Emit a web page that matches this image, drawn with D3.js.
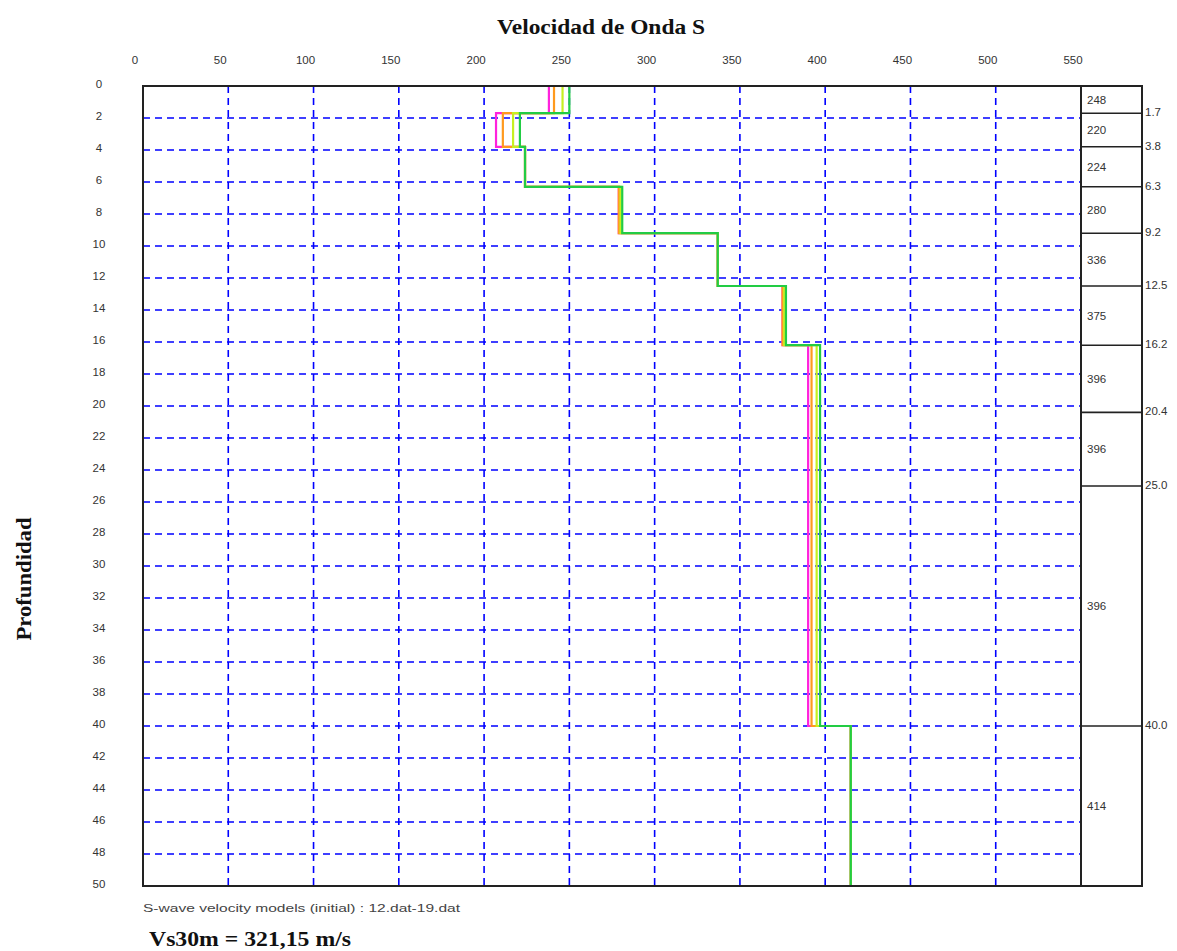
<!DOCTYPE html>
<html>
<head>
<meta charset="utf-8">
<script src="https://cdn.jsdelivr.net/npm/d3@7"></script>
<style>
  html, body { margin: 0; padding: 0; background: #fff; }
  svg { display: block; }
</style>
</head>
<body>
<svg id="chart" width="1177" height="951"></svg>
<script>
// ---- Data ----
const xTicks = [0, 50, 100, 150, 200, 250, 300, 350, 400, 450, 500, 550];
const yTicks = [0, 2, 4, 6, 8, 10, 12, 14, 16, 18, 20, 22, 24, 26, 28, 30, 32, 34, 36, 38, 40, 42, 44, 46, 48, 50];
const layerTops = [0, 1.7, 3.8, 6.3, 9.2, 12.5, 16.2, 20.4, 25.0, 40.0];
const maxDepth = 50;
const layerLabels = [248, 220, 224, 280, 336, 375, 396, 396, 396, 414];
const boundaryLabels = ["1.7", "3.8", "6.3", "9.2", "12.5", "16.2", "20.4", "25.0", "40.0"];
const seriesNames = ["12.dat", "13.dat", "18.dat", "19.dat"];
const magentaVs = [238, 207, 224, 279, 337, 375, 390, 390, 390, 415];
const orangeVs  = [241, 211, 224, 279, 337, 375, 392, 392, 392, 415];
const yellowVs  = [246, 217, 224, 280, 337, 376, 395, 395, 395, 415];
const greenVs   = [250, 221, 224, 281, 337, 377, 397, 397, 397, 415];
const seriesColors = ["#ff22dd", "#ff9a1e", "#c6f020", "#22cc44"];

// ---- Layout ----
const svg = d3.select("#chart");
const x = d3.scaleLinear().domain([0, 550]).range([143, 1081]);
const y = d3.scaleLinear().domain([0, maxDepth]).range([86, 886]);
const colLeft = 1081, colRight = 1142;
const labelColor = "#333";

// Grid
const grid = svg.append("g");
grid.selectAll("line.v").data(xTicks.filter(d => d > 0 && d < 550)).enter().append("line")
  .attr("x1", d => x(d)).attr("x2", d => x(d)).attr("y1", y(0)).attr("y2", y(maxDepth))
  .attr("stroke", "#0000ff").attr("stroke-width", 1.6).attr("stroke-dasharray", "7,5");
grid.selectAll("line.h").data(yTicks.filter(d => d > 0 && d < maxDepth)).enter().append("line")
  .attr("x1", x(0)).attr("x2", x(550)).attr("y1", d => y(d)).attr("y2", d => y(d))
  .attr("stroke", "#0000ff").attr("stroke-width", 1.6).attr("stroke-dasharray", "7,5");

// Series step lines
const series = [magentaVs, orangeVs, yellowVs, greenVs];
const line = d3.line().x(d => x(d[0])).y(d => y(d[1]));
series.forEach((vals, i) => {
  const pts = [];
  vals.forEach((v, k) => {
    const top = layerTops[k];
    const bot = k + 1 < layerTops.length ? layerTops[k + 1] : maxDepth;
    pts.push([v, top]);
    pts.push([v, bot]);
  });
  svg.append("path").datum(pts).attr("d", line)
    .attr("fill", "none").attr("stroke", seriesColors[i]).attr("stroke-width", 2.2);
});

// Plot border
svg.append("rect").attr("x", x(0)).attr("y", y(0)).attr("width", x(550) - x(0)).attr("height", y(maxDepth) - y(0))
  .attr("fill", "none").attr("stroke", "#222").attr("stroke-width", 2);

// Right column
svg.append("rect").attr("x", colLeft).attr("y", y(0)).attr("width", colRight - colLeft).attr("height", y(maxDepth) - y(0))
  .attr("fill", "none").attr("stroke", "#222").attr("stroke-width", 2);
svg.selectAll("line.b").data(layerTops.slice(1)).enter().append("line")
  .attr("x1", colLeft).attr("x2", colRight).attr("y1", d => y(d)).attr("y2", d => y(d))
  .attr("stroke", "#222").attr("stroke-width", 1.6);
svg.selectAll("text.vl").data(layerLabels).enter().append("text")
  .attr("x", colLeft + 6)
  .attr("y", (d, k) => (y(layerTops[k]) + y(k + 1 < layerTops.length ? layerTops[k + 1] : maxDepth)) / 2)
  .attr("dy", "0.35em")
  .attr("font-family", "Liberation Sans, Arial, sans-serif").attr("font-size", 11.5).attr("fill", labelColor)
  .text(d => d);
svg.selectAll("text.bl").data(boundaryLabels).enter().append("text")
  .attr("x", colRight + 3).attr("y", (d, k) => y(layerTops[k + 1]) - 1).attr("dy", "0.35em")
  .attr("font-family", "Liberation Sans, Arial, sans-serif").attr("font-size", 11.5).attr("fill", labelColor)
  .text(d => d);

// Axis tick labels
svg.selectAll("text.xt").data(xTicks).enter().append("text")
  .attr("x", d => x(d) - 8).attr("y", 64).attr("text-anchor", "middle")
  .attr("font-family", "Liberation Sans, Arial, sans-serif").attr("font-size", 11.5).attr("fill", labelColor)
  .text(d => d);
svg.selectAll("text.yt").data(yTicks).enter().append("text")
  .attr("x", 99).attr("y", d => y(d) - 2).attr("dy", "0.35em").attr("text-anchor", "middle")
  .attr("font-family", "Liberation Sans, Arial, sans-serif").attr("font-size", 11.5).attr("fill", labelColor)
  .text(d => d);

// Titles
svg.append("text").attr("x", 601).attr("y", 34).attr("text-anchor", "middle")
  .attr("font-family", "Liberation Serif, Times New Roman, serif").attr("font-weight", "bold").attr("font-size", 20)
  .attr("textLength", 208).attr("lengthAdjust", "spacingAndGlyphs")
  .attr("fill", "#111").text("Velocidad de Onda S");
svg.append("text").attr("transform", "translate(31,579) rotate(-90)").attr("text-anchor", "middle")
  .attr("font-family", "Liberation Serif, Times New Roman, serif").attr("font-weight", "bold").attr("font-size", 20)
  .attr("textLength", 123).attr("lengthAdjust", "spacingAndGlyphs")
  .attr("fill", "#111").text("Profundidad");
svg.append("text").attr("x", 143).attr("y", 912)
  .attr("font-family", "Liberation Sans, Arial, sans-serif").attr("font-size", 11).attr("fill", "#444")
  .attr("textLength", 317).attr("lengthAdjust", "spacingAndGlyphs")
  .text("S-wave velocity models (initial) : " + seriesNames[0] + "-" + seriesNames[3]);
svg.append("text").attr("x", 149).attr("y", 946)
  .attr("font-family", "Liberation Serif, Times New Roman, serif").attr("font-weight", "bold").attr("font-size", 22)
  .attr("textLength", 202).attr("lengthAdjust", "spacingAndGlyphs")
  .attr("fill", "#111").text("Vs30m = 321,15 m/s");
</script>
</body>
</html>
